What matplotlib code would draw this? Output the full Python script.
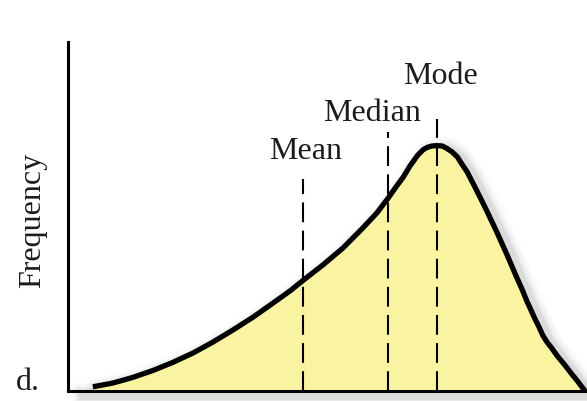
import matplotlib.pyplot as plt
import numpy as np

# points (x, frequency), axes run 0..100
curve_x = [4.8, 8.7, 12.5, 16.4, 20.2, 24.1, 27.9, 31.8, 35.7, 39.5, 42.8,
           45.3, 49.1, 53.0, 56.8, 59.5, 61.7, 63.2, 64.6, 65.9, 67.4, 68.4,
           69.2, 70.1, 71.1, 72.1, 73.0, 74.0, 75.0, 75.9, 76.9, 78.8, 80.7,
           82.7, 84.6, 86.5, 87.5, 88.4, 89.2, 90.0, 90.8, 91.5, 92.3, 93.1,
           94.2, 95.8, 97.1, 98.3, 99.6]
curve_y = [1.2, 2.3, 3.9, 5.9, 8.2, 10.9, 14.0, 17.5, 21.2, 25.2, 28.7,
           31.7, 36.1, 41.0, 46.7, 51.0, 55.3, 58.5, 61.3, 64.5, 67.6, 69.1,
           69.8, 70.2, 70.3, 70.2, 69.5, 68.5, 67.1, 65.0, 62.8, 57.3, 51.6,
           45.3, 39.0, 32.4, 29.1, 25.8, 23.2, 20.6, 18.2, 15.9, 14.0, 12.5,
           10.2, 7.3, 4.8, 2.6, 0.0]

measures = ["Mean", "Median", "Mode"]
measure_x = [45.2, 61.7, 71.1]
line_top = [60.7, 74.2, 77.9]
label_pos = [(45.7, 68.8), (58.6, 79.7), (71.7, 90.5)]

serif = "Liberation Serif"
ink = "#1c1c1c"

fig = plt.figure(figsize=(5.87, 4.02), dpi=100)
ax = fig.add_axes([68 / 587, 10 / 402, 519 / 587, 349 / 402])
ax.set_xlim(0, 100)
ax.set_ylim(0, 100)

# soft grey shadow to the lower right of the curve and the baseline
for lw, a in [(18, 0.02), (14, 0.03), (10, 0.04), (7, 0.055)]:
    ax.plot(np.array(curve_x) + 1.0, np.array(curve_y) - 0.9, color="k",
            lw=lw, alpha=a, solid_capstyle="round", solid_joinstyle="round",
            zorder=1)
    ax.plot([3, 100], [-1.2, -1.2], color="k", lw=lw, alpha=a,
            clip_on=False, zorder=1)

ax.fill_between(curve_x, curve_y, 0, color="#faf4a2", lw=0, zorder=2)
ax.plot(curve_x, curve_y, color="black", lw=3.8, solid_capstyle="butt",
        solid_joinstyle="round", zorder=4)

for name, mx, top, (tx, ty) in zip(measures, measure_x, line_top, label_pos):
    ax.plot([mx, mx], [0, top], color="black", lw=1.5,
            linestyle=(0, (9.5, 4)), zorder=3)
    ax.text(tx, ty, name, family=serif, fontsize=23, color=ink,
            ha="center", va="center")

for side in ["top", "right"]:
    ax.spines[side].set_visible(False)
for side in ["left", "bottom"]:
    ax.spines[side].set_linewidth(2.2)
    ax.spines[side].set_zorder(5)
ax.set_xticks([])
ax.set_yticks([])

fig.text(33 / 587, 1 - 220 / 402, "Frequency", family=serif, fontsize=23,
         color=ink, rotation=90, ha="center", va="center")
fig.text(28 / 587, 1 - 383 / 402, "d.", family=serif, fontsize=23,
         color=ink, ha="center", va="center")

fig.savefig("out.png", dpi=100)
